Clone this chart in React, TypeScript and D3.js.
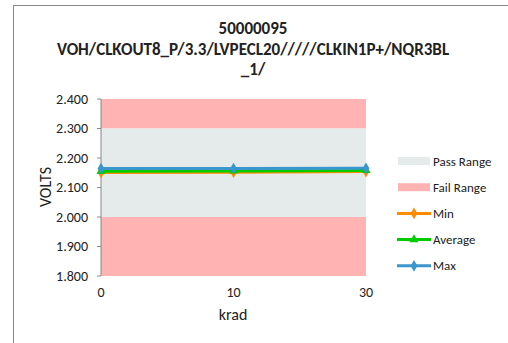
import React from "react";
import * as d3 from "d3";

const categories = ["0", "10", "30"];
const minValues = [2.151, 2.152, 2.154];
const avgValues = [2.155, 2.156, 2.158];
const maxValues = [2.164, 2.164, 2.165];
const yTicks = [1.8, 1.9, 2.0, 2.1, 2.2, 2.3, 2.4];
const passRange = [2.0, 2.3];
const failLow = [1.8, 2.0];
const failHigh = [2.3, 2.4];
const titleLines = ["50000095", "VOH/CLKOUT8_P/3.3/LVPECL20/////CLKIN1P+/NQR3BL", "_1/"];

const series = [
  { name: "Min", values: minValues, color: "#FF8C00", marker: "diamond" },
  { name: "Average", values: avgValues, color: "#00CC00", marker: "triangle" },
  { name: "Max", values: maxValues, color: "#3A96CC", marker: "diamond" },
];

export default function App() {
  const W = 508, H = 343;
  const left = 101, right = 366, top = 99, bottom = 276;
  const x = d3.scalePoint<string>().domain(categories).range([left, right]);
  const y = d3.scaleLinear().domain([1.8, 2.4]).range([bottom, top]);
  const line = d3.line<number>().x((_, i) => x(categories[i])!).y((d) => y(d));
  const font = "Carlito, 'Open Sans', 'Liberation Sans', sans-serif";
  const diamond = d3.symbol().type(d3.symbolDiamond).size(40)();
  const tri = d3.symbol().type(d3.symbolTriangle).size(36)();

  const legendItems = [
    { name: "Pass Range", kind: "rect", color: "#E5EAEA" },
    { name: "Fail Range", kind: "rect", color: "#FFB3B3" },
    ...series.map((s) => ({ name: s.name, kind: "line", color: s.color, marker: s.marker })),
  ];

  return (
    <svg width={W} height={H} style={{ position: "absolute", left: 0, top: 0, fontFamily: font }}>
      <rect x={0} y={0} width={W} height={H} fill="#fff" />
      <rect x={13.5} y={5.5} width={W} height={H} fill="#fff" stroke="#888" strokeWidth={1} />
      {titleLines.map((t, i) => (
        <text key={i} x={253} y={34 + i * 20.5} textAnchor="middle" fontSize={17} fontWeight="bold" fill="#222">
          {t}
        </text>
      ))}
      <rect x={left} y={y(failHigh[1])} width={right - left} height={y(failHigh[0]) - y(failHigh[1])} fill="#FFB3B3" />
      <rect x={left} y={y(passRange[1])} width={right - left} height={y(passRange[0]) - y(passRange[1])} fill="#E5EAEA" />
      <rect x={left} y={y(failLow[1])} width={right - left} height={y(failLow[0]) - y(failLow[1])} fill="#FFB3B3" />
      <line x1={left} x2={left} y1={top} y2={bottom} stroke="#888" />
      {yTicks.map((t) => (
        <g key={t}>
          <line x1={left - 4} x2={left} y1={y(t)} y2={y(t)} stroke="#888" />
          <text x={left - 13} y={y(t) + 4.5} textAnchor="end" fontSize={14} fill="#222">
            {t.toFixed(3)}
          </text>
        </g>
      ))}
      {categories.map((c) => (
        <text key={c} x={x(c)} y={297} textAnchor="middle" fontSize={14} fill="#222">
          {c}
        </text>
      ))}
      <text x={233} y={320} textAnchor="middle" fontSize={16} fill="#222">krad</text>
      <text transform={`translate(51,187) rotate(-90)`} textAnchor="middle" fontSize={16} fill="#222">VOLTS</text>
      {series.map((s) => (
        <g key={s.name}>
          <path d={line(s.values)!} fill="none" stroke={s.color} strokeWidth={3} />
          {s.values.map((v, i) => (
            <path key={i} d={s.marker === "diamond" ? diamond : tri} transform={`translate(${x(categories[i])},${y(v)})`} fill={s.color} />
          ))}
        </g>
      ))}
      {legendItems.map((it, i) => {
        const ly = 161 + i * 26.2;
        return (
          <g key={it.name}>
            {it.kind === "rect" ? (
              <rect x={398} y={ly - 4} width={32} height={8} fill={it.color} />
            ) : (
              <g>
                <line x1={397} x2={431} y1={ly} y2={ly} stroke={it.color} strokeWidth={3} />
                <path d={(it as any).marker === "diamond" ? diamond : tri} transform={`translate(414,${ly})`} fill={it.color} />
              </g>
            )}
            <text x={433} y={ly + 4.5} fontSize={13} fill="#222">{it.name}</text>
          </g>
        );
      })}
    </svg>
  );
}
